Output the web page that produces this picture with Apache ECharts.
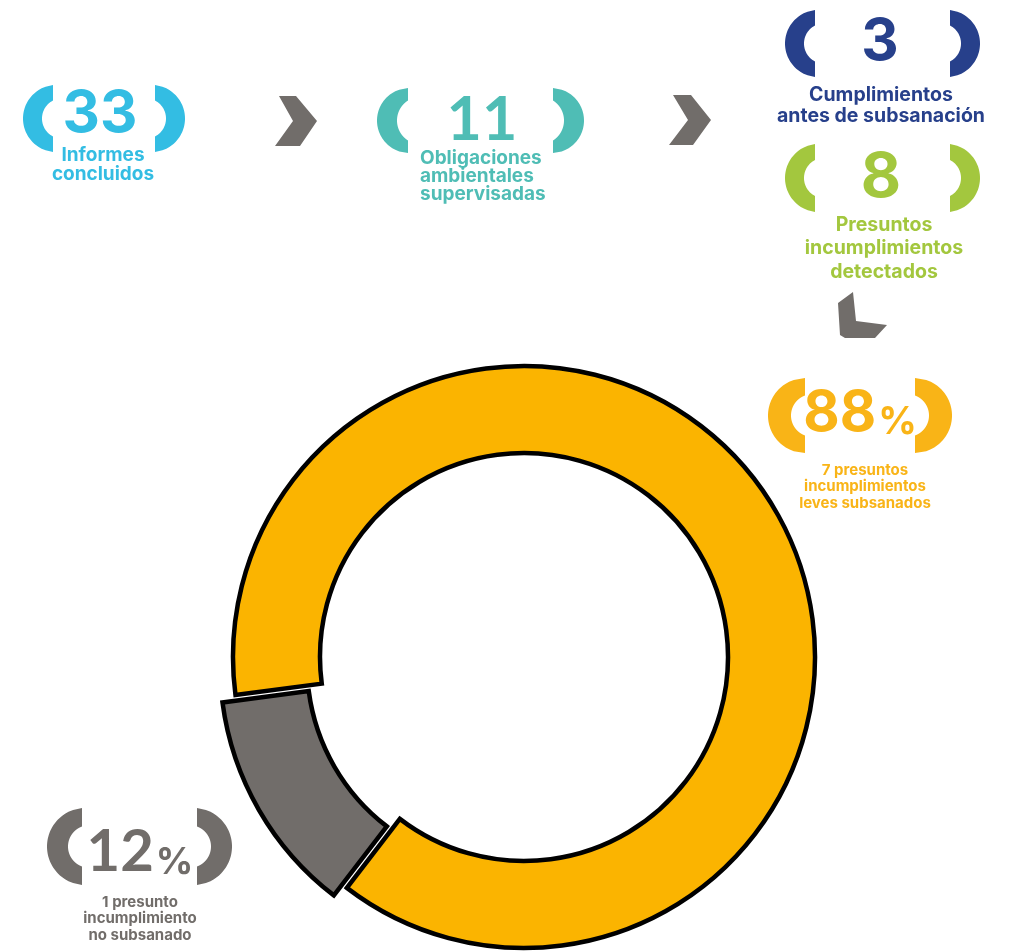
<!DOCTYPE html>
<html><head><meta charset="utf-8">
<script src="https://cdn.jsdelivr.net/npm/echarts@6/dist/echarts.min.js"></script>
<style>html,body{margin:0;padding:0;background:#fff}#c{width:1009px;height:951px}</style>
</head><body><div id="c"></div>
<script>
// ---- data ----
const kpiNumbers = ['33', '11', '3', '8'];
const kpiLabels = [
  ['Informes', 'concluidos'],
  ['Obligaciones', 'ambientales', 'supervisadas'],
  ['Cumplimientos', 'antes de subsanación'],
  ['Presuntos', 'incumplimientos', 'detectados']
];
const pieNames = ['7 presuntos incumplimientos leves subsanados', '1 presunto incumplimiento no subsanado'];
const pieValues = [7, 1];
const piePercents = ['88', '12'];
const pieLabels = [
  ['7 presuntos', 'incumplimientos', 'leves subsanados'],
  ['1 presunto', 'incumplimiento', 'no subsanado']
];

// ---- styles ----
const C = {cyan:'#33BDE3', teal:'#4FBDB5', navy:'#27408B', green:'#A3C73E', orange:'#F9B417', gray:'#716D6A', pieOrange:'#FBB400'};
const FONT = 'Inter, Lato, "DejaVu Sans", sans-serif';
const FONT_SERIF1 = 'Lato, Inter, "DejaVu Sans", sans-serif';

function bracket(xc, yc, h, D, T, hi, dir, color) {
  const pts = [];
  const R = (h*h + D*D) / (2*D);
  const cx = xc - dir*(R - D);
  const N = 40;
  for (let i = 0; i <= N; i++) {
    const y = yc - h + 2*h*i/N;
    const dy = y - yc;
    pts.push([cx + dir*Math.sqrt(Math.max(0, R*R - dy*dy)), y]);
  }
  const d = D - T;
  const r = (hi*hi + d*d) / (2*d);
  const cxi = xc - dir*(r - d);
  for (let i = 0; i <= N; i++) {
    const y = yc + hi - 2*hi*i/N;
    const dy = y - yc;
    pts.push([cxi + dir*Math.sqrt(Math.max(0, r*r - dy*dy)), y]);
  }
  return {type:'polygon', shape:{points:pts}, style:{fill:color}, silent:true};
}
function bracketPair(xl, xr, yc, h, D, T, hi, color) {
  return [bracket(xl, yc, h, D, T, hi, -1, color), bracket(xr, yc, h, D, T, hi, 1, color)];
}
function txt(s, x, y, size, color, align, weight, font) {
  return {type:'text', x:x, y:y, silent:true, style:{text:s, fill:color, font:(weight||'bold')+' '+size+'px '+(font||FONT), align:align||'center', verticalAlign:'middle'}};
}
function lines(arr, x, y0, dy, size, color, align, weight) {
  return arr.map((s, i) => txt(s, x, y0 + i*dy, size, color, align, weight));
}

const g = [];
// brackets
g.push(...bracketPair(53, 155, 118.5, 33.5, 30, 19, 18, C.cyan));
g.push(...bracketPair(408, 553, 120.5, 32.5, 31, 20, 20, C.teal));
g.push(...bracketPair(815, 950, 43.5, 33.5, 30, 19, 18, C.navy));
g.push(...bracketPair(815, 950, 178, 34, 30, 19, 18, C.green));
g.push(...bracketPair(805, 915, 415.5, 37.5, 37, 23, 20, C.orange));
g.push(...bracketPair(82, 197, 846.5, 38.5, 35, 21, 20, C.gray));

// numbers
g.push(txt(kpiNumbers[0], 100, 115, 58, C.cyan, 'center', 'bold'));
g.push(txt(kpiNumbers[1], 482, 120, 61, C.teal, 'center', 'bold', FONT_SERIF1));
g.push(txt(kpiNumbers[2], 880, 43, 58, C.navy, 'center', 'bold'));
g.push(txt(kpiNumbers[3], 881, 178, 62, C.green, 'center', 'bold'));

// labels
g.push(...lines(kpiLabels[0], 103, 155, 19.5, 19, C.cyan, 'center', 'bold'));
g.push(...lines(kpiLabels[1], 420, 158, 18, 19, C.teal, 'left', 'bold'));
g.push(...lines(kpiLabels[2], 881, 95, 21.5, 19.5, C.navy, 'center', 'bold'));
g.push(...lines(kpiLabels[3], 884, 225, 23.5, 19.5, C.green, 'center', 'bold'));

// percents
function pct(num, x, y, color, size, psize, font) {
  return {type:'text', x:x, y:y, silent:true, style:{
    text:'{n|'+num+'}{p|%}', align:'center', verticalAlign:'middle', fill:color,
    rich:{n:{font:'bold '+size+'px '+font, fill:color}, p:{font:'bold '+psize+'px '+FONT, fill:color, verticalAlign:'bottom', padding:[0,0,0,2]}}
  }};
}
g.push(pct(piePercents[0], 860, 414, C.orange, 56, 38, FONT));
g.push(pct(piePercents[1], 140, 852, C.gray, 58, 37, FONT_SERIF1));
g.push(...lines(pieLabels[0], 865, 470, 16.5, 15, C.orange, 'center', 'bold'));
g.push(...lines(pieLabels[1], 140, 902, 16.5, 15, C.gray, 'center', 'bold'));

// chevrons
const chev = (pts) => ({type:'polygon', shape:{points:pts}, style:{fill:C.gray}, silent:true});
g.push(chev([[279,96],[296,96],[317,121],[300,146],[275,146],[293,121]]));
g.push(chev([[673,95],[691,95],[711,120],[693,145],[669,145],[688,120]]));
g.push(chev([[853,292],[838,303],[840,335],[845,338],[875,338],[887,325],[856,321]]));

const chart = echarts.init(document.getElementById('c'), null, {renderer:'canvas'});
chart.setOption({
  animation:false,
  backgroundColor:'#ffffff',
  graphic:{elements:g},
  series:[{
    type:'pie',
    center:[524,657],
    radius:[204,291],
    startAngle:187.5,
    clockwise:true,
    selectedMode:'single',
    selectedOffset:15,
    avoidLabelOverlap:false,
    label:{show:false}, labelLine:{show:false},
    emphasis:{disabled:true},
    itemStyle:{borderColor:'#000', borderWidth:4.5, borderJoin:'miter'},
    data:pieValues.map((v,i)=>({value:v, name:pieNames[i], selected:i===1,
      itemStyle:{color:[C.pieOrange, C.gray][i]}}))
  }]
});
</script></body></html>
